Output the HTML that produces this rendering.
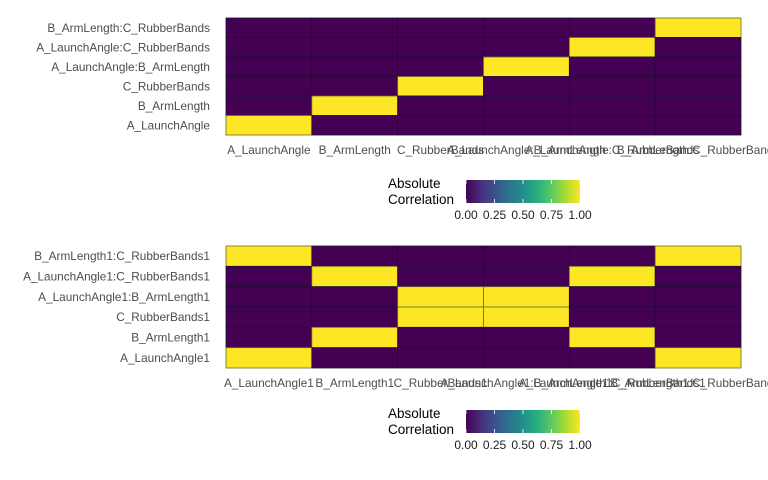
<!DOCTYPE html>
<html><head><meta charset="utf-8"><style>
body{margin:0;background:#fff;}
svg{display:block;font-family:"Liberation Sans",sans-serif;}
</style></head><body>
<svg id="s" width="768" height="480" xmlns="http://www.w3.org/2000/svg">
<defs><linearGradient id="v" x1="0" x2="1" y1="0" y2="0">
<stop offset="0" stop-color="#440154"/><stop offset="0.125" stop-color="#472d7b"/><stop offset="0.25" stop-color="#3b528b"/><stop offset="0.375" stop-color="#2c728e"/><stop offset="0.5" stop-color="#21908c"/><stop offset="0.625" stop-color="#27ad81"/><stop offset="0.75" stop-color="#5dc963"/><stop offset="0.875" stop-color="#aadc32"/><stop offset="1" stop-color="#fde725"/></linearGradient></defs>
</svg>
<script>
var s=document.getElementById('s'),NS='http://www.w3.org/2000/svg';
function el(t,a,txt){var e=document.createElementNS(NS,t);for(var k in a)e.setAttribute(k,a[k]);if(txt!=null)e.textContent=txt;s.appendChild(e);return e;}
function panel(top,bot,rows,cols,yel,legY){
 var L=226,R=741,cw=(R-L)/6,rh=(bot-top)/6;
 for(var r=0;r<6;r++)for(var c=0;c<6;c++){
  var on=yel[r].indexOf(c)>=0;
  el('rect',{x:L+c*cw,y:top+r*rh,width:cw,height:rh,fill:on?'#fde725':'#440154',stroke:on?'#6b6b30':'#1a1030','stroke-width':0.8});
 }
 for(var r=0;r<6;r++)el('text',{x:210,y:top+r*rh+rh/2+4,'text-anchor':'end','font-size':11.8,fill:'#4d4d4d'},rows[r]);
 for(var c=0;c<6;c++)el('text',{x:L+c*cw+cw/2,y:bot+19,'text-anchor':'middle','font-size':11.8,fill:'#4d4d4d'},cols[c]);
 el('text',{x:388,y:legY+8,'font-size':13.5,fill:'#000'},'Absolute');
 el('text',{x:388,y:legY+24,'font-size':13.5,fill:'#000'},'Correlation');
 el('rect',{x:466,y:legY,width:114,height:23,fill:'url(#v)'});
 var t=['0.00','0.25','0.50','0.75','1.00'];
 for(var i=0;i<5;i++){var x=466+i*28.5;
  el('line',{x1:x,x2:x,y1:legY,y2:legY+4,stroke:'#fff','stroke-width':0.8});
  el('line',{x1:x,x2:x,y1:legY+19,y2:legY+23,stroke:'#fff','stroke-width':0.8});
  el('text',{x:x,y:legY+39,'text-anchor':'middle','font-size':12,fill:'#222'},t[i]);}
}
panel(18,135,['B_ArmLength:C_RubberBands','A_LaunchAngle:C_RubberBands','A_LaunchAngle:B_ArmLength','C_RubberBands','B_ArmLength','A_LaunchAngle'],
 ['A_LaunchAngle','B_ArmLength','C_RubberBands','A_LaunchAngle:B_ArmLength','A_LaunchAngle:C_RubberBands','B_ArmLength:C_RubberBands'],
 [[5],[4],[3],[2],[1],[0]],180);
panel(246,368,['B_ArmLength1:C_RubberBands1','A_LaunchAngle1:C_RubberBands1','A_LaunchAngle1:B_ArmLength1','C_RubberBands1','B_ArmLength1','A_LaunchAngle1'],
 ['A_LaunchAngle1','B_ArmLength1','C_RubberBands1','A_LaunchAngle1:B_ArmLength1','A_LaunchAngle1:C_RubberBands1','B_ArmLength1:C_RubberBands1'],
 [[0,5],[1,4],[2,3],[2,3],[1,4],[0,5]],410);
</script>
</body></html>
